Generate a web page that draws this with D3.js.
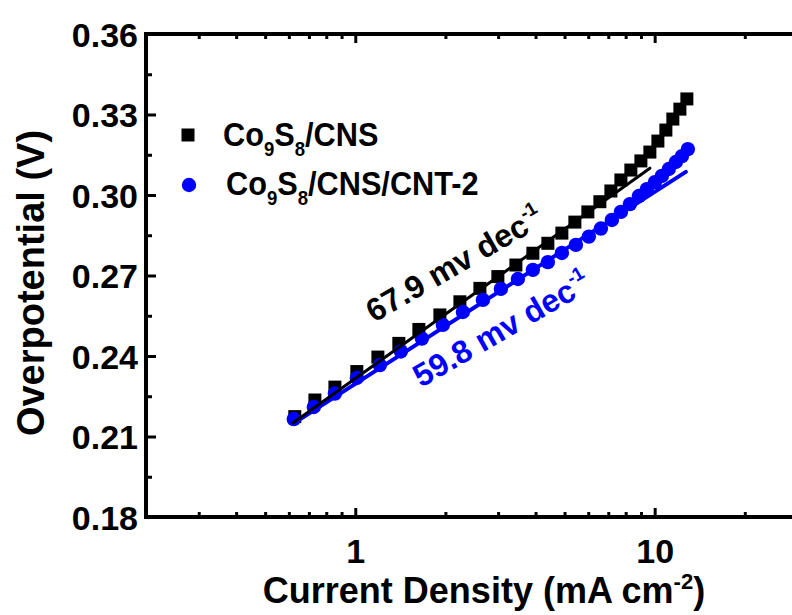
<!DOCTYPE html>
<html>
<head>
<meta charset="utf-8">
<script src="https://cdn.jsdelivr.net/npm/d3@7/dist/d3.min.js"></script>
<style>
  html, body { margin: 0; padding: 0; background: #fff; }
  svg { display: block; }
  text { font-family: "Liberation Sans", Arial, sans-serif; font-weight: bold; }
</style>
</head>
<body>
<svg id="chart" width="792" height="615"></svg>
<script>
// Tafel data: current density (mA cm^-2) and overpotential (V)
const cnsCurrent = [0.628, 0.733, 0.855, 1.012, 1.190, 1.398, 1.631, 1.917, 2.236, 2.608,
  2.994, 3.439, 3.919, 4.398, 4.898, 5.413, 5.982, 6.561, 7.141, 7.713,
  8.327, 8.994, 9.638, 10.25, 10.90, 11.50, 12.14, 12.81];
const cnsPotential = [0.2174, 0.2236, 0.2284, 0.2342, 0.2396, 0.2447, 0.2499, 0.2553, 0.2602, 0.2652,
  0.2696, 0.2739, 0.2783, 0.2820, 0.2858, 0.2899, 0.2937, 0.2975, 0.3015, 0.3056,
  0.3093, 0.3127, 0.3160, 0.3201, 0.3242, 0.3283, 0.3320, 0.3358];

const cntCurrent = [0.623, 0.727, 0.855, 1.012, 1.208, 1.420, 1.669, 1.961, 2.288, 2.669,
  3.064, 3.492, 3.919, 4.398, 4.898, 5.455, 6.028, 6.613, 7.194, 7.713,
  8.263, 8.855, 9.416, 10.02, 10.57, 11.15, 11.77, 12.33, 12.91];
const cntPotential = [0.2165, 0.2210, 0.2260, 0.2318, 0.2366, 0.2417, 0.2465, 0.2516, 0.2564, 0.2609,
  0.2650, 0.2687, 0.2721, 0.2750, 0.2784, 0.2814, 0.2845, 0.2875, 0.2907, 0.2937,
  0.2966, 0.2996, 0.3022, 0.3048, 0.3071, 0.3097, 0.3123, 0.3145, 0.3171];

// Linear Tafel fits: endpoints [current, potential]
const cnsFit = [[0.619, 0.2150], [9.64, 0.3100]];
const cntFit = [[0.619, 0.2147], [12.71, 0.3086]];

const seriesNames = ["Co9S8/CNS", "Co9S8/CNS/CNT-2"];
const slopeLabels = ["67.9 mv dec", "59.8 mv dec"];

const xMajorTicks = [1, 10];
const xMinorTicks = [0.2, 0.3, 0.4, 0.5, 0.6, 0.7, 0.8, 0.9, 2, 3, 4, 5, 6, 7, 8, 9, 20, 30];
const yMajorTicks = [0.18, 0.21, 0.24, 0.27, 0.30, 0.33, 0.36];
const yMinorTicks = [0.195, 0.225, 0.255, 0.285, 0.315, 0.345];

const svg = d3.select("#chart");
const plotLeft = 146, plotTop = 34, plotBottom = 517;
const plotRight = plotLeft + Math.log10(40 / 0.2) * 299.4;

const x = d3.scaleLog().domain([0.2, 40]).range([plotLeft, plotRight]);
const y = d3.scaleLinear().domain([0.18, 0.36]).range([plotBottom, plotTop]);

const blue = "#0000ff";

// Frame
svg.append("rect")
  .attr("x", plotLeft).attr("y", plotTop)
  .attr("width", plotRight - plotLeft).attr("height", plotBottom - plotTop)
  .attr("fill", "none").attr("stroke", "#000").attr("stroke-width", 4);

// Axes with inward ticks
const tickFmt = d3.format(".2f");
svg.append("g")
  .attr("transform", `translate(${plotLeft},0)`)
  .call(d3.axisLeft(y).tickValues(yMajorTicks).tickFormat(tickFmt).tickSizeInner(-10).tickSizeOuter(0).tickPadding(20))
  .call(g => g.select(".domain").remove())
  .call(g => g.selectAll("line").attr("stroke-width", 3))
  .call(g => g.selectAll("text").attr("font-size", 34).attr("dy", "0.36em").attr("x", -8).attr("fill", "#000"));
svg.append("g")
  .attr("transform", `translate(${plotLeft},0)`)
  .call(d3.axisLeft(y).tickValues(yMinorTicks).tickFormat("").tickSizeInner(-6).tickSizeOuter(0))
  .call(g => g.select(".domain").remove())
  .call(g => g.selectAll("line").attr("stroke-width", 3));

svg.append("g")
  .attr("transform", `translate(0,${plotBottom})`)
  .call(d3.axisBottom(x).tickValues(xMajorTicks).tickFormat(d3.format("d")).tickSizeInner(-9).tickSizeOuter(0).tickPadding(22))
  .call(g => g.select(".domain").remove())
  .call(g => g.selectAll("line").attr("stroke-width", 3))
  .call(g => g.selectAll("text").attr("font-size", 34).attr("fill", "#000"));
svg.append("g")
  .attr("transform", `translate(0,${plotBottom})`)
  .call(d3.axisBottom(x).tickValues(xMinorTicks).tickFormat("").tickSizeInner(-5).tickSizeOuter(0))
  .call(g => g.select(".domain").remove())
  .call(g => g.selectAll("line").attr("stroke-width", 3));

svg.append("g")
  .attr("transform", `translate(0,${plotTop})`)
  .call(d3.axisTop(x).tickValues(xMajorTicks).tickFormat("").tickSizeInner(-9).tickSizeOuter(0))
  .call(g => g.select(".domain").remove())
  .call(g => g.selectAll("line").attr("stroke-width", 3));
svg.append("g")
  .attr("transform", `translate(0,${plotTop})`)
  .call(d3.axisTop(x).tickValues(xMinorTicks).tickFormat("").tickSizeInner(-5).tickSizeOuter(0))
  .call(g => g.select(".domain").remove())
  .call(g => g.selectAll("line").attr("stroke-width", 3));

// Axis titles
const xTitle = svg.append("text")
  .attr("x", 484).attr("y", 603)
  .attr("text-anchor", "middle").attr("font-size", 36);
xTitle.append("tspan").text("Current Density (mA cm");
xTitle.append("tspan").attr("font-size", 22).attr("dy", -14).text("-2");
xTitle.append("tspan").attr("dy", 14).text(")");

svg.append("text")
  .attr("transform", "translate(44,283) rotate(-90)")
  .attr("text-anchor", "middle").attr("font-size", 38)
  .text("Overpotential (V)");

// Data markers
const cnsData = cnsCurrent.map((c, i) => [c, cnsPotential[i]]);
const cntData = cntCurrent.map((c, i) => [c, cntPotential[i]]);
const sq = 13;

svg.append("g").selectAll("rect")
  .data(cnsData).join("rect")
  .attr("x", d => x(d[0]) - sq / 2).attr("y", d => y(d[1]) - sq / 2)
  .attr("width", sq).attr("height", sq).attr("fill", "#000");

svg.append("g").selectAll("circle")
  .data(cntData).join("circle")
  .attr("cx", d => x(d[0])).attr("cy", d => y(d[1]))
  .attr("r", 7.2).attr("fill", blue);

// Fit lines
const line = d3.line().x(d => x(d[0])).y(d => y(d[1]));
svg.append("path").datum(cntFit).attr("d", line)
  .attr("stroke", blue).attr("stroke-width", 4).attr("fill", "none").attr("stroke-linecap", "round");
svg.append("path").datum(cnsFit).attr("d", line)
  .attr("stroke", "#000").attr("stroke-width", 3).attr("fill", "none").attr("stroke-linecap", "round");

// Slope annotations
function slopeText(px, py, label, color) {
  const t = svg.append("text")
    .attr("transform", `translate(${px},${py}) rotate(-30)`)
    .attr("font-size", 32).attr("fill", color);
  t.append("tspan").text(label);
  t.append("tspan").attr("font-size", 19).attr("dy", -14).text("-1");
}
slopeText(374, 323, slopeLabels[0], "#000");
slopeText(421, 388, slopeLabels[1], blue);

// Legend
function legendLabel(px, py, name, color) {
  const m = name.match(/^(Co)(9)(S)(8)(.*)$/);
  const t = svg.append("text")
    .attr("transform", `translate(${px},${py}) scale(0.93,1)`)
    .attr("font-size", 33).attr("fill", color);
  t.append("tspan").text(m[1]);
  t.append("tspan").attr("font-size", 20).attr("dy", 10).text(m[2]);
  t.append("tspan").attr("dy", -10).text(m[3]);
  t.append("tspan").attr("font-size", 20).attr("dy", 10).text(m[4]);
  t.append("tspan").attr("dy", -10).text(m[5]);
}
svg.append("rect").attr("x", 188 - sq / 2).attr("y", 135 - sq / 2)
  .attr("width", sq).attr("height", sq).attr("fill", "#000");
legendLabel(223, 146, seriesNames[0], "#000");
svg.append("circle").attr("cx", 189).attr("cy", 185).attr("r", 7.2).attr("fill", blue);
legendLabel(226, 195, seriesNames[1], "#000");
</script>
</body>
</html>
